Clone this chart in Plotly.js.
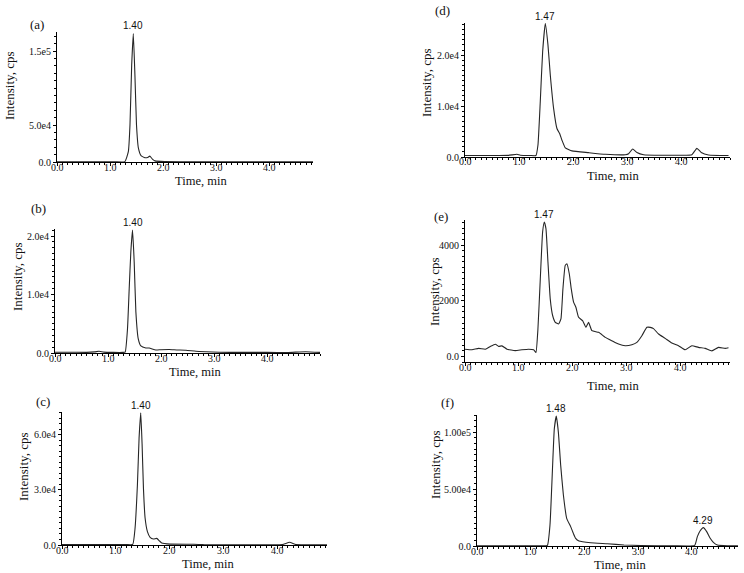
<!DOCTYPE html>
<html>
<head>
<meta charset="utf-8">
<script src="https://cdn.plot.ly/plotly-3.0.1.min.js"></script>
<style>
  html, body { margin: 0; padding: 0; background: #fff; }
  #plot_div { width: 744px; height: 573px; }
</style>
</head>
<body>
<div id="plot_div"></div>
<script>
// retention time (min) and intensity (cps)
const time_a = [0, 0.4, 0.8, 1.1, 1.28, 1.346, 1.377, 1.409, 1.44, 1.47, 1.50, 1.535, 1.585, 1.66, 1.72, 1.75, 1.80, 1.85, 2.03, 2.4, 3.0, 3.6, 4.2, 4.83];
const cps_a  = [200, 250, 300, 250, 500, 13900, 50000, 131000, 174000, 118000, 50000, 19000, 8500, 5800, 6500, 8000, 4000, 1500, 600, 400, 250, 200, 200, 200];

const time_b = [0, 0.3, 0.6, 0.75, 0.83, 0.92, 1.1, 1.28, 1.324, 1.368, 1.40, 1.431, 1.463, 1.494, 1.526, 1.57, 1.62, 1.714, 1.777, 1.903, 2.0, 2.154, 2.3, 2.47, 2.66, 2.85, 3.1, 3.5, 4.0, 4.4, 4.73, 5.0];
const cps_b  = [120, 140, 110, 200, 290, 150, 100, 100, 150, 4150, 11000, 17300, 21000, 15600, 7000, 2450, 1200, 850, 850, 510, 560, 600, 520, 470, 300, 220, 120, 100, 110, 90, 220, 100];

const time_c = [0, 0.5, 1.0, 1.2, 1.316, 1.359, 1.403, 1.434, 1.465, 1.49, 1.515, 1.546, 1.589, 1.639, 1.701, 1.763, 1.813, 1.856, 2.011, 2.446, 2.632, 3.0, 3.6, 4.1, 4.234, 4.35, 4.6, 4.93];
const cps_c  = [200, 200, 200, 200, 300, 9100, 32700, 58300, 72000, 55000, 31000, 14700, 7300, 4200, 3300, 3600, 2200, 1100, 500, 400, 200, 150, 150, 200, 1500, 200, 150, 150];

const time_d = [0, 0.4, 0.8, 0.961, 1.023, 1.2, 1.312, 1.349, 1.392, 1.436, 1.485, 1.534, 1.577, 1.639, 1.70, 1.75, 1.793, 1.855, 1.978, 2.286, 2.594, 2.964, 3.025, 3.10, 3.179, 3.302, 3.641, 4.0, 4.195, 4.288, 4.368, 4.503, 4.873];
const cps_d  = [300, 280, 320, 530, 350, 300, 300, 2350, 10900, 20700, 26200, 22000, 16100, 9500, 5600, 4600, 3300, 1800, 1200, 850, 530, 450, 650, 1570, 900, 450, 350, 350, 450, 1700, 900, 400, 300];

const time_e = [0, 0.13, 0.253, 0.377, 0.47, 0.563, 0.625, 0.686, 0.779, 0.934,
                1.057, 1.18, 1.274, 1.317, 1.354, 1.398, 1.441, 1.472, 1.503, 1.54,
                1.583, 1.627, 1.676, 1.738, 1.781, 1.818, 1.861, 1.892, 1.936, 1.973,
                2.016, 2.059, 2.109, 2.183, 2.245, 2.294, 2.356, 2.48, 2.604, 2.727,
                2.851, 2.975, 3.098, 3.191, 3.284, 3.377, 3.439, 3.5, 3.593, 3.717,
                3.84, 3.964, 4.088, 4.212, 4.335, 4.459, 4.583, 4.706, 4.83, 4.892];
const cps_e  = [260, 240, 290, 260, 360, 440, 360, 380, 260, 210,
                240, 260, 240, 140, 985, 2790, 4470, 4830, 4590, 3390,
                2060, 1470, 1225, 1165, 1345, 2425, 3270, 3330, 2970, 2425,
                1950, 1765, 1405, 1285, 1045, 1225, 925, 865, 685, 565,
                445, 385, 420, 505, 745, 1045, 1045, 1000, 805, 650,
                480, 385, 240, 385, 325, 290, 200, 325, 290, 310];

const time_f = [0, 0.5, 1.0, 1.2, 1.31, 1.359, 1.403, 1.44, 1.477, 1.515, 1.558, 1.608, 1.67, 1.744, 1.794, 1.837, 1.899, 2.117, 2.427, 2.737, 3.048, 3.669, 4.054, 4.103, 4.153, 4.215, 4.277, 4.339, 4.401, 4.476, 4.662, 4.86];
const cps_f  = [200, 200, 200, 200, 500, 18400, 65000, 103000, 114000, 100000, 71000, 45000, 24300, 17000, 11100, 6700, 4400, 2900, 2000, 900, 400, 200, 500, 8200, 13200, 16100, 12600, 7000, 3200, 800, 200, 200];

// tick labels
const x_tick_vals = [0, 1, 2, 3, 4];
const x_tick_text = ['0.0', '1.0', '2.0', '3.0', '4.0'];
const y_ticks_a = [0, 5e4, 1.5e5], y_text_a = ['0.0', '5.0e4', '1.5e5'];
const y_ticks_b = [0, 1e4, 2e4],   y_text_b = ['0.0', '1.0e4', '2.0e4'];
const y_ticks_c = [0, 3e4, 6e4],   y_text_c = ['0.0', '3.0e4', '6.0e4'];
const y_ticks_d = [0, 1e4, 2e4],   y_text_d = ['0.0', '1.0e4', '2.0e4'];
const y_ticks_e = [0, 2000, 4000], y_text_e = ['0.0', '2000', '4000'];
const y_ticks_f = [0, 5e4, 1e5],   y_text_f = ['0.0', '5.00e4', '1.00e5'];

// peak labels: [apex time, label]
const peaks_a = [[1.44, '1.40']];
const peaks_b = [[1.463, '1.40']];
const peaks_c = [[1.465, '1.40']];
const peaks_d = [[1.485, '1.47']];
const peaks_e = [[1.472, '1.47']];
const peaks_f = [[1.477, '1.48'], [4.215, '4.29']];

const W = 744, H = 573;
const px = x => x / W;
const py = y => 1 - y / H;

// box = [left, right, top, bottom] in page pixels
const panels = [
    {tag: '(a)', t: time_a, y: cps_a, box: [57, 313, 32, 162],  x_max: 4.83, y_range: [0, 1.76e5], yv: y_ticks_a, yt: y_text_a, y_minor: 1e4,  peaks: peaks_a,
     tag_at: [37, 24],  ytitle_at: [9, 86],   xtitle_at: [201, 178]},
    {tag: '(b)', t: time_b, y: cps_b, box: [55, 320, 229, 353], x_max: 5.0,  y_range: [0, 2.12e4], yv: y_ticks_b, yt: y_text_b, y_minor: 1e3,  peaks: peaks_b,
     tag_at: [38, 208], ytitle_at: [17, 277], xtitle_at: [195, 369]},
    {tag: '(c)', t: time_c, y: cps_c, box: [62, 327, 412, 545], x_max: 4.93, y_range: [0, 7.25e4], yv: y_ticks_c, yt: y_text_c, y_minor: 3e3,  peaks: peaks_c,
     tag_at: [43, 401], ytitle_at: [23, 467], xtitle_at: [208, 562]},
    {tag: '(d)', t: time_d, y: cps_d, box: [465, 730, 23, 157], x_max: 4.9,  y_range: [0, 2.63e4], yv: y_ticks_d, yt: y_text_d, y_minor: 1e3,  peaks: peaks_d,
     tag_at: [442, 10], ytitle_at: [427, 83], xtitle_at: [613, 176]},
    {tag: '(e)', t: time_e, y: cps_e, box: [465, 730, 220, 362], x_max: 4.92, y_range: [-200, 4900], yv: y_ticks_e, yt: y_text_e, y_minor: 200, peaks: peaks_e,
     tag_at: [441, 217], ytitle_at: [434, 292], xtitle_at: [613, 386]},
    {tag: '(f)', t: time_f, y: cps_f, box: [477, 738, 415, 546], x_max: 4.86, y_range: [0, 1.15e5], yv: y_ticks_f, yt: y_text_f, y_minor: 5e3,  peaks: peaks_f,
     tag_at: [447, 402], ytitle_at: [435, 465], xtitle_at: [620, 562]},
];

const serif = '"Liberation Serif", "Times New Roman", serif';
const sans = '"Liberation Sans", Arial, sans-serif';

const data = [];
const layout = {
    width: W, height: H,
    margin: {l: 0, r: 0, t: 0, b: 0},
    showlegend: false,
    paper_bgcolor: '#fff',
    plot_bgcolor: 'rgba(0,0,0,0)',
    annotations: [],
};

panels.forEach((p, i) => {
    const n = i === 0 ? '' : String(i + 1);
    const [l, r, top, bot] = p.box;
    data.push({
        x: p.t, y: p.y, type: 'scatter', mode: 'lines',
        xaxis: 'x' + n, yaxis: 'y' + n,
        line: {color: '#262626', width: 1.1, shape: 'spline', smoothing: 0.4},
        hoverinfo: 'skip',
    });

    const axis_common = {
        showline: true, linecolor: '#000', linewidth: 1,
        showgrid: false, zeroline: false, fixedrange: true,
        ticks: 'outside', ticklen: 3, tickcolor: '#000', tickwidth: 1,
        tickfont: {family: serif, size: 10, color: '#111'},
        tickmode: 'array', automargin: false,
    };
    layout['xaxis' + n] = Object.assign({}, axis_common, {
        domain: [px(l), px(r)], anchor: 'y' + n,
        range: [0, p.x_max],
        tickvals: x_tick_vals, showticklabels: false,
        minor: {tickmode: 'linear', tick0: 0, dtick: 0.1, ticks: 'outside', ticklen: 2, tickcolor: '#000'},
    });
    layout['yaxis' + n] = Object.assign({}, axis_common, {
        domain: [py(bot), py(top)], anchor: 'x' + n,
        range: p.y_range,
        tickvals: p.yv, ticktext: p.yt,
        minor: {tickmode: 'linear', tick0: 0, dtick: p.y_minor, ticks: 'outside', ticklen: 2, tickcolor: '#000'},
    });

    const ann = layout.annotations;
    // x tick labels sit tight under the axis, as in the original print
    x_tick_vals.forEach((v, j) => {
        ann.push({xref: 'x' + n, yref: 'paper', x: v, y: py(bot + 5), text: x_tick_text[j],
                  showarrow: false, xanchor: 'center', yanchor: 'middle', borderpad: 0,
                  font: {family: serif, size: 10, color: '#111'}});
    });
    ann.push({xref: 'paper', yref: 'paper', x: px(p.tag_at[0]), y: py(p.tag_at[1]), text: p.tag,
              showarrow: false, xanchor: 'center', yanchor: 'middle', font: {family: serif, size: 13, color: '#111'}});
    ann.push({xref: 'paper', yref: 'paper', x: px(p.ytitle_at[0]), y: py(p.ytitle_at[1]), text: 'Intensity, cps',
              textangle: -90, showarrow: false, xanchor: 'center', yanchor: 'middle', font: {family: serif, size: 13, color: '#111'}});
    const xt_y = Math.max(p.xtitle_at[1], bot + 19);
    ann.push({xref: 'paper', yref: 'paper', x: px(p.xtitle_at[0]), y: py(xt_y), text: 'Time, min',
              showarrow: false, xanchor: 'center', yanchor: 'middle', borderpad: 0,
              font: {family: serif, size: 12.5, color: '#111'}});

    // peak labels sit on the apex
    p.peaks.forEach(([t, label]) => {
        const k = p.t.indexOf(t);
        ann.push({xref: 'x' + n, yref: 'y' + n, x: t, y: p.y[k], text: label,
                  showarrow: false, xanchor: 'center', yanchor: 'bottom', yshift: 0,
                  font: {family: sans, size: 10, color: '#111'}});
    });
});

Plotly.newPlot('plot_div', data, layout, {displayModeBar: false, staticPlot: true});
</script>
</body>
</html>
